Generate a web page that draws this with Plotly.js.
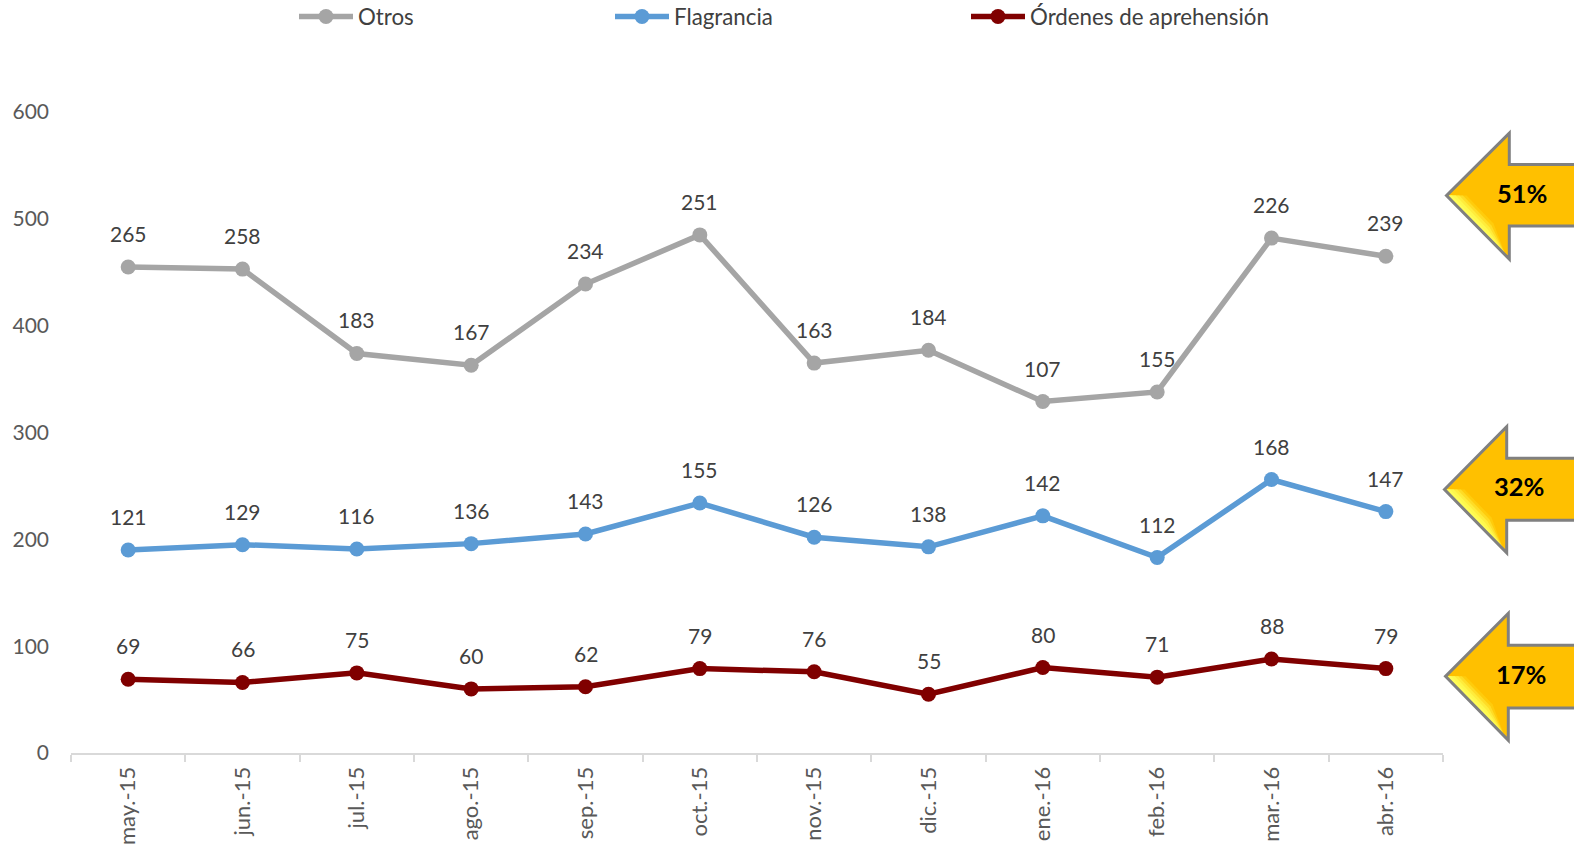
<!DOCTYPE html>
<html><head><meta charset="utf-8">
<script src="https://cdn.plot.ly/plotly-3.0.1.min.js"></script>
<style>html,body{margin:0;padding:0;background:#fff;overflow:hidden}</style>
</head><body><div id="chart" style="width:1574px;height:847px"></div>
<script>
const months = ['may.-15','jun.-15','jul.-15','ago.-15','sep.-15','oct.-15','nov.-15','dic.-15','ene.-16','feb.-16','mar.-16','abr.-16'];
const ordenes = [69,66,75,60,62,79,76,55,80,71,88,79];
const flagrancia = [121,129,116,136,143,155,126,138,142,112,168,147];
const otros = [265,258,183,167,234,251,163,184,107,155,226,239];
const shares = ['51%','32%','17%'];
const FONT = 'Lato, Carlito, Calibri, sans-serif';
const W = 1574, H = 847, L = 71, R = 1443, T = 112, B = 752.6;
const px = x => (x - L) / (R - L);
const py = y => (B - y) / B;

function line(name, y, color, legend) {
  return {type:'scatter', x:months, y, name, mode:'lines+markers', stackgroup:'one', fill:'none',
    legend, line:{color, width:5.5, shape:'linear'}, marker:{color, size:15}, cliponaxis:false};
}
const traces = [
  line('Órdenes de aprehensión', ordenes, '#800000', 'legend3'),
  line('Flagrancia', flagrancia, '#5B9BD5', 'legend2'),
  line('Otros', otros, '#A5A5A5', 'legend')
];

const annotations = [];
function labels(vals, base) {
  vals.forEach((v,i) => annotations.push({x:months[i], y:base[i]+v, xref:'x', yref:'y', text:String(v),
    showarrow:false, yshift:33.5, font:{family:FONT, size:21, color:'#404040'}}));
  return vals.map((v,i)=>v+base[i]);
}
let c = labels(ordenes, ordenes.map(()=>0));
c = labels(flagrancia, c);
labels(otros, c);

const shapes = [];
function poly(pts, fill, lineColor, lw) {
  const d = 'M' + pts.map(p => px(p[0]) + ',' + py(p[1])).join('L') + 'Z';
  shapes.push({type:'path', xref:'paper', yref:'paper', path:d, fillcolor:fill, layer:'above',
    line:{color:lineColor||'rgba(0,0,0,0)', width:lw||0}});
}
function arrow(tipX, tipY, nx, top, bottom, neckTop, neckBot, label, lx, ly) {
  const outline = [[tipX,tipY],[nx,top],[nx,neckTop],[1590,neckTop],[1590,neckBot],[nx,neckBot],[nx,bottom]];
  poly(outline, '#FFC000');
  const layers = [[1,'#FFCC0C'],[0.8,'#FFDC26'],[0.6,'#FFEC3C'],[0.4,'#FFF84C'],[0.2,'#FFFD58']];
  layers.forEach(([f,col]) => {
    poly([[tipX+2,tipY],[tipX+2+18*f,tipY],[tipX+37+10*f,tipY+37-9*f],[nx-3-1,bottom-5]], col);
  });
  poly(outline, 'rgba(0,0,0,0)', '#808080', 3);
  annotations.push({xref:'paper', yref:'paper', x:px(lx), y:py(ly), xanchor:'center', yanchor:'middle',
    text:'<b>'+label+'</b>', showarrow:false, font:{family:FONT, size:25.5, color:'#000'}});
}
arrow(1446.5,195.5,1509.3,133,259,164.5,226,shares[0],1522,193);
arrow(1444.5,489.3,1506.7,426.5,552.5,458,520,shares[1],1519,486);
arrow(1445.5,676,1508.3,613,740,645,707.5,shares[2],1521,674);

function leg(x) {
  return {x:px(x), y:py(16.5), xanchor:'left', yanchor:'middle', orientation:'h', bgcolor:'rgba(0,0,0,0)',
    itemwidth:54, font:{family:FONT, size:22.3, color:'#404040'}, itemclick:false};
}
const axisFont = {family:FONT, size:21, color:'#595959'};
const layout = {
  width:W, height:H, paper_bgcolor:'#fff', plot_bgcolor:'#fff',
  margin:{l:L, r:W-R, t:0, b:H-B, pad:0, autoexpand:false},
  showlegend:true,
  legend:leg(294), legend2:leg(610), legend3:leg(966),
  xaxis:{type:'category', range:[-0.5,11.5], tickmode:'array', tickvals:months, ticktext:months, tickson:'boundaries',
    ticks:'outside', ticklen:7, tickwidth:2, tickcolor:'#D9D9D9', showline:true, linecolor:'#D9D9D9', linewidth:2,
    showgrid:false, zeroline:false, tickangle:-90, tickfont:{family:FONT, size:22, color:'#595959'}, ticklabelstandoff:3, automargin:false},
  yaxis:{domain:[0,(B-T)/B], range:[0,600], tickvals:[0,100,200,300,400,500,600], showgrid:false, zeroline:false, showline:false,
    ticks:'', tickfont:axisFont, ticklabelstandoff:21, automargin:false},
  annotations, shapes
};
Plotly.newPlot('chart', traces, layout, {displayModeBar:false, staticPlot:true});
</script></body></html>
